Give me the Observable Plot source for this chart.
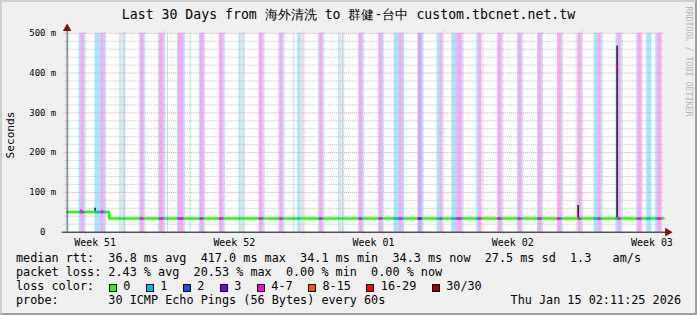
<!DOCTYPE html>
<html><head><meta charset="utf-8">
<script src="https://cdn.jsdelivr.net/npm/d3@7"></script>
<script src="https://cdn.jsdelivr.net/npm/@observablehq/plot@0.6"></script>
<style>
html,body{margin:0;padding:0;background:#f0f0f0}
#chart{position:relative;width:697px;height:315px;box-sizing:border-box;background:#f0f0f0;
  border-top:2px solid #cecece;border-left:2px solid #cecece;border-right:2px solid #9e9e9e;border-bottom:2px solid #9e9e9e;
  overflow:hidden;font-family:"DejaVu Sans Mono",monospace;color:#000}
#plot{position:absolute;left:-2px;top:-2px}
.t{position:absolute;white-space:pre;font-size:11.8px;line-height:13.8px}
#title{left:-2px;width:697px;text-align:center;top:6px;font-size:13.2px;line-height:13.2px}
#ylab{left:-26px;top:127px;width:70px;text-align:center;font-size:11.2px;line-height:12px;transform:rotate(-90deg)}
#rrd{left:631px;top:55px;width:110px;font-size:8.3px;line-height:9px;color:#b4b4b4;transform:rotate(90deg)}
.sw{position:absolute;width:6px;height:6px;border:1px solid #000}
</style></head><body><div id="chart"></div>
<script>
// ---- data ----
const titleText = "Last 30 Days from 海外清洗 to 群健-台中 custom.tbcnet.net.tw";
const yAxisLabel = "Seconds";
const startTime = "2025-12-16T02:11:25Z";
const endTime = "2026-01-15T02:11:25Z";
const weekLabels = ["Week 51", "Week 52", "Week 01", "Week 02", "Week 03"];
const weekLabelTimes = ["2025-12-17T12:00:00Z", "2025-12-24T12:00:00Z", "2025-12-31T12:00:00Z", "2026-01-07T12:00:00Z", "2026-01-14T12:00:00Z"];
const weekStarts = ["2025-12-21", "2025-12-28", "2026-01-04", "2026-01-11"];
const yTicks = [0, 100, 200, 300, 400, 500];
const yTickLabels = ["0\u00a0\u00a0", "100 m", "200 m", "300 m", "400 m", "500 m"];
const lossLevels = ["0", "1", "2", "3", "4-7", "8-15", "16-29", "30/30"];
const lossColors = ["#26ff00", "#00b8ff", "#0059ff", "#7e00ff", "#ff00ea", "#ff5500", "#ff0000", "#a10000"];
// median rtt (ms)
const medianTimes = ["2025-12-16T02:11:25Z", "2025-12-18T04:20:00Z", "2025-12-18T05:00:00Z", "2026-01-15T02:11:25Z"];
const medianValues = [50.5, 50.5, 34.3, 34.3];
// median peaks (ms) with loss level index
const peakTimes = ["2025-12-16T19:40:00Z", "2025-12-17T21:00:00Z", "2026-01-10T19:00:00Z", "2026-01-12T18:00:00Z"];
const peakValues = [55, 54, 45, 417];
const peakLevels = [4, 4, 4, 4];
// smoke spread (ms)
const smokeTimes = ["2025-12-16T19:40:00Z", "2025-12-17T12:00:00Z", "2025-12-18T04:40:00Z", "2026-01-10T19:00:00Z", "2026-01-12T18:00:00Z"];
const smokeLow = [50, 49, 34, 34, 34];
const smokeHigh = [72, 60, 51, 67, 468];
const smokeShade = ["#c4c4c4", "#202020", "#202020", "#202020", "#202020"];
// packet loss periods: [day, from hour, to hour, loss level index] ("g" = grey)
const lossSegments = [
  ["2025-12-16", 3.4, 4.6, 1], ["2025-12-16", 16.6, 19.0, 1], ["2025-12-16", 19.0, 22.8, 4], ["2025-12-16", 22.8, 24.0, 1],
  ["2025-12-17", 11.8, 19.0, 1], ["2025-12-17", 19.0, 22.8, 4], ["2025-12-17", 22.8, 25.0, 1],
  ["2025-12-18", 17.8, 19.0, 1], ["2025-12-18", 19.0, 22.8, "g"], ["2025-12-18", 22.8, 24.6, 1],
  ["2025-12-19", 17.8, 19.0, 1], ["2025-12-19", 19.0, 22.8, 4], ["2025-12-19", 22.8, 24.0, 1],
  ["2025-12-20", 16.6, 17.8, 1], ["2025-12-20", 17.8, 22.8, 4], ["2025-12-20", 22.8, 24.0, 1],
  ["2025-12-21", 3.4, 4.6, 1], ["2025-12-21", 15.4, 16.6, 1], ["2025-12-21", 16.6, 22.8, 4], ["2025-12-21", 22.8, 24.0, 1],
  ["2025-12-22", 6.6, 7.8, 1], ["2025-12-22", 17.8, 19.0, 1], ["2025-12-22", 19.0, 22.8, 4], ["2025-12-22", 22.8, 24.0, 1],
  ["2025-12-23", 18.0, 22.8, 4], ["2025-12-23", 22.8, 24.0, 1],
  ["2025-12-24", 17.8, 20.2, 1], ["2025-12-24", 20.2, 22.8, "g"], ["2025-12-24", 22.8, 24.0, 1],
  ["2025-12-25", 18.0, 22.8, 4], ["2025-12-25", 22.8, 24.0, 1],
  ["2025-12-26", 17.8, 19.0, 1], ["2025-12-26", 19.0, 22.8, 4], ["2025-12-26", 22.8, 24.0, 1],
  ["2025-12-27", 11.8, 13.0, 1], ["2025-12-27", 16.6, 20.2, 1], ["2025-12-27", 20.2, 24.0, "g"],
  ["2025-12-28", 17.8, 19.0, 1], ["2025-12-28", 19.0, 22.8, 4], ["2025-12-28", 22.8, 24.0, 1],
  ["2025-12-29", 17.8, 19.0, 1], ["2025-12-29", 19.0, 22.8, "g"], ["2025-12-29", 22.8, 24.0, 1],
  ["2025-12-30", 17.8, 19.0, 1], ["2025-12-30", 19.0, 22.8, 4], ["2025-12-30", 22.8, 24.0, 1],
  ["2025-12-31", 17.8, 19.0, 1], ["2025-12-31", 19.0, 22.8, 4], ["2025-12-31", 22.8, 24.0, 1],
  ["2026-01-01", 12.8, 19.0, 1], ["2026-01-01", 19.0, 22.8, 4], ["2026-01-01", 22.8, 25.0, 1],
  ["2026-01-02", 17.8, 22.8, 3], ["2026-01-02", 22.8, 24.0, 1],
  ["2026-01-03", 16.6, 20.2, 1], ["2026-01-03", 20.2, 22.8, 4], ["2026-01-03", 22.8, 24.0, 1],
  ["2026-01-04", 10.6, 16.6, 1], ["2026-01-04", 16.6, 22.8, 4], ["2026-01-04", 22.8, 24.0, 1],
  ["2026-01-05", 16.6, 19.0, 1], ["2026-01-05", 19.0, 22.8, 4],
  ["2026-01-06", 18.0, 22.8, 4], ["2026-01-06", 22.8, 24.0, 1],
  ["2026-01-07", 17.8, 19.0, 1], ["2026-01-07", 19.0, 22.8, 4], ["2026-01-07", 22.8, 24.0, 1],
  ["2026-01-08", 17.8, 19.0, 1], ["2026-01-08", 19.0, 22.8, 4], ["2026-01-08", 22.8, 24.0, 1],
  ["2026-01-09", 18.0, 22.8, 4], ["2026-01-09", 22.8, 24.0, 1],
  ["2026-01-10", 16.6, 19.0, "g"], ["2026-01-10", 19.0, 22.8, 4], ["2026-01-10", 22.8, 24.0, 1],
  ["2026-01-11", 14.2, 19.0, 1], ["2026-01-11", 19.0, 22.8, 4], ["2026-01-11", 22.8, 24.0, 1],
  ["2026-01-12", 16.6, 19.0, 1], ["2026-01-12", 19.0, 22.8, 4], ["2026-01-12", 22.8, 24.0, 1],
  ["2026-01-13", 17.8, 19.0, 1], ["2026-01-13", 19.0, 24.0, 4],
  ["2026-01-14", 5.8, 11.8, 1], ["2026-01-14", 16.6, 19.0, 1], ["2026-01-14", 19.0, 24.0, 4]
];
const legendRows = [
  "median rtt:  36.8 ms avg  417.0 ms max  34.1 ms min  34.3 ms now  27.5 ms sd  1.3   am/s",
  "packet loss: 2.43 % avg  20.53 % max  0.00 % min  0.00 % now"
];
const lossLabel = "loss color:";
const probeText = "probe:       30 ICMP Echo Pings (56 Bytes) every 60s";
const stampText = "Thu Jan 15 02:11:25 2026";
const rrdText = "RRDTOOL / TOBI OETIKER";

// ---- helpers ----
const t0 = new Date(startTime), t1 = new Date(endTime);
const H = (day, h) => new Date(Date.parse(day + "T00:00:00Z") + h * 3600e3);
const pxTime = 30 * 86400e3 / 600; // ms per pixel
const tShift = (t, px) => new Date(+t + px * pxTime);
const medianAt = d3.scaleUtc().domain(medianTimes.map(s => new Date(s))).range(medianValues);
const stripeFill = l => l === "g" ? "#b4b2c6" : lossColors[l];
const weekStartDates = weekStarts.map(s => new Date(s + "T00:00:00Z"));
const dayLines = d3.utcDay.range(d3.utcDay.ceil(t0), t1).filter(d => !weekStartDates.some(w => +w === +d));
const yMinor = d3.range(20, 500, 20).filter(v => v % 100 !== 0);
const medianData = medianTimes.map((s, i) => ({t: new Date(s), v: medianValues[i]}));
const lineSegs = lossSegments.filter(d => d[3] !== "g");

const plot = Plot.plot({
  width: 697, height: 250,
  marginLeft: 67, marginRight: 30, marginTop: 33, marginBottom: 17,
  style: {background: "transparent", fontFamily: "DejaVu Sans Mono, monospace", overflow: "visible"},
  x: {type: "utc", domain: [t0, t1], axis: null},
  y: {domain: [0, 500], axis: null},
  color: {type: "identity"},
  marks: [
    Plot.rect([0], {x1: t0, x2: t1, y1: 0, y2: 500, fill: "#fff"}),
    Plot.rect(lossSegments, {x1: d => H(d[0], d[1]), x2: d => H(d[0], d[2]), y1: 0, y2: 500, fill: d => stripeFill(d[3]), fillOpacity: 0.35}),
    Plot.ruleY(yMinor, {x1: tShift(t0, -3), x2: t1, stroke: "#bdbdbd", strokeDasharray: "1,1"}),
    Plot.ruleX(dayLines, {y1: -5, y2: 505, stroke: "#bdbdbd", strokeDasharray: "1,1"}),
    Plot.ruleY(yTicks.filter(v => v > 0), {x1: tShift(t0, -3), x2: t1, stroke: "#ee9a9a", strokeDasharray: "1,1"}),
    Plot.ruleX(weekStartDates, {y1: -7, y2: 505, stroke: "#ee9a9a", strokeDasharray: "1,1"}),
    Plot.ruleX(smokeTimes, {x: d => new Date(d), y1: (d, i) => smokeLow[i], y2: (d, i) => smokeHigh[i], stroke: (d, i) => smokeShade[i], strokeWidth: 1.6}),
    Plot.line(medianData, {x: "t", y: "v", stroke: lossColors[0], strokeWidth: 2.6, curve: "step-after"}),
    Plot.ruleY(lineSegs, {x1: d => H(d[0], d[1]), x2: d => H(d[0], d[2]), y: d => medianAt(H(d[0], (d[1] + d[2]) / 2)), stroke: d => lossColors[d[3]], strokeWidth: 2.6}),
    Plot.ruleY(peakTimes, {x1: d => tShift(new Date(d), -0.8), x2: d => tShift(new Date(d), 0.8), y: (d, i) => peakValues[i], stroke: (d, i) => lossColors[peakLevels[i]], strokeWidth: 2}),
    Plot.ruleY([0], {x1: tShift(t0, -5), x2: tShift(t1, 3), stroke: "#000"}),
    Plot.ruleX([t0], {y1: 0, y2: 510, stroke: "#555"}),
    Plot.dot([0], {x: t0, y: 512, symbol: "triangle", r: 3.2, fill: "#7f1010"}),
    Plot.dot([0], {x: tShift(t1, 4), y: 0, symbol: "triangle", rotate: 90, r: 3.2, fill: "#7f1010"}),
    Plot.text(yTicks, {x: t0, y: d => d, text: (d, i) => yTickLabels[i], textAnchor: "end", dx: -11, fontSize: 9, fill: "#000"}),
    Plot.text(weekLabelTimes, {x: d => new Date(d), y: 0, text: (d, i) => weekLabels[i], dy: 11, fontSize: 10, fill: "#000"})
  ]
});
plot.id = "plot";
const chart = document.getElementById("chart");
chart.appendChild(plot);

function addText(id, txt, left, top) {
  const e = document.createElement("div"); e.className = "t"; if (id) e.id = id; e.textContent = txt;
  if (left != null) e.style.left = left + "px"; if (top != null) e.style.top = top + "px";
  chart.appendChild(e); return e;
}
addText("title", titleText);
addText("ylab", yAxisLabel);
addText("rrd", rrdText);
// legend rows (positions relative to the padding box: page coords minus 2)
const L = 14, rowTop = [250.3, 264.1, 277.9, 291.7];
addText(null, legendRows[0], L, rowTop[0]);
addText(null, legendRows[1], L, rowTop[1]);
addText(null, lossLabel, L, rowTop[2]);
addText(null, probeText, L, rowTop[3]);
const st = addText(null, stampText, null, rowTop[3]); st.style.right = "14px";
const cw = 7.1; // monospace advance
let x = 106.7;
lossLevels.forEach((l, i) => {
  const s = document.createElement("div"); s.className = "sw"; s.style.background = lossColors[i];
  s.style.left = x + "px"; s.style.top = "281.5px"; chart.appendChild(s);
  addText(null, l, x + 14.6, rowTop[2]);
  x += 29.9 + l.length * cw;
});
</script></body></html>
